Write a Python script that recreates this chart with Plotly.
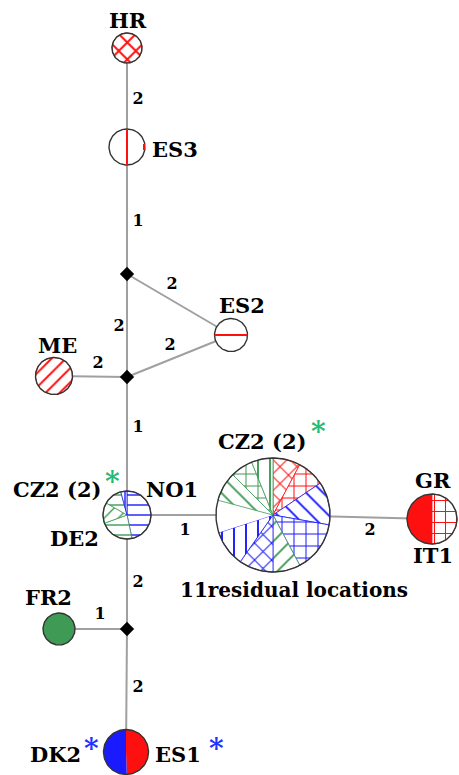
import numpy as np
import plotly.graph_objects as go

# ---------------- data ----------------
node_names = ["HR", "ES3", "J1", "ES2", "J2", "ME", "CZ2", "RES", "GR", "J3", "FR2", "DK2"]
node_x = [127, 127, 127, 231, 127, 54, 127, 273, 432, 127, 59, 126]
node_y = [48, 147, 274, 335, 377, 376, 515, 515, 519, 629, 629, 752]

edge_from = ["HR", "ES3", "J1", "J1", "J2", "ME", "J2", "CZ2", "RES", "CZ2", "FR2", "J3"]
edge_to = ["ES3", "J1", "ES2", "J2", "ES2", "J2", "CZ2", "RES", "GR", "J3", "J3", "DK2"]
edge_mutations = [2, 1, 2, 2, 2, 2, 1, 1, 2, 2, 1, 2]
edge_label_x = [138, 138, 172, 119, 170, 98, 138, 185, 370, 138, 100, 138]
edge_label_y = [100, 222, 285, 327, 346, 364, 428, 531, 531, 583, 615, 688]

RED, BLUE, GREEN = "#ff1010", "#1a1aff", "#3f9a55"
node_radius = {"HR": 15, "ES3": 18, "ES2": 16.5, "ME": 18.5, "CZ2": 24,
               "RES": 57, "GR": 25, "FR2": 16, "DK2": 22.5}
sectors = {
    "HR": [(0, 360, RED, "x")],
    "ES3": [(0, 360, "white", "")],
    "ES2": [(0, 360, "white", "")],
    "ME": [(0, 360, RED, "/")],
    "CZ2": [(0, 168, BLUE, "-"), (168, 250, GREEN, "-"), (250, 300, GREEN, "/"),
            (300, 345, GREEN, "-"), (345, 360, BLUE, "|")],
    "RES": [(0, 28, RED, "x"), (28, 56, RED, "+"), (56, 100, BLUE, "\\"),
            (100, 152, BLUE, "+"), (152, 180, GREEN, "/"), (180, 215, BLUE, "x"),
            (215, 252, BLUE, "|"), (252, 285, "white", ""), (285, 315, GREEN, "\\"),
            (315, 338, GREEN, "+"), (338, 360, GREEN, "|")],
    "GR": [(0, 180, RED, "+"), (180, 360, RED, "")],
    "FR2": [(0, 360, GREEN, "")],
    "DK2": [(0, 178, RED, ""), (178, 360, BLUE, "")],
}
pattern_size = {"HR": 12, "ME": 10, "CZ2": 10, "RES": 12, "GR": 11}
pattern_solidity = {"HR": 0.3, "ME": 0.2, "CZ2": 0.14, "RES": 0.16, "GR": 0.18}

labels = [
    ("HR", 128, 20), ("ES3", 175, 149), ("ES2", 242, 305), ("ME", 57, 345),
    ("CZ2 (2)", 57, 489), ("NO1", 172, 489), ("DE2", 74, 538), ("CZ2 (2)", 262, 441),
    ("GR", 433, 480), ("IT1", 433, 555), ("11residual locations", 294, 590),
    ("FR2", 48, 597), ("DK2", 55, 754), ("ES1", 178, 754),
]
asterisks = [(112, 481, "#22bb77"), (318, 431, "#22bb77"), (91, 748, "#2233ff"), (216, 748, "#2233ff")]

SERIF = "DejaVu Serif"

# ---------------- figure ----------------
pos = dict(zip(node_names, zip(node_x, node_y)))
fig = go.Figure()

for a, b in zip(edge_from, edge_to):
    (x0, y0), (x1, y1) = pos[a], pos[b]
    fig.add_trace(go.Scatter(x=[x0, x1], y=[y0, y1], mode="lines",
                             line=dict(color="#a0a0a0", width=2), hoverinfo="skip"))

jx = [pos[n][0] for n in ["J1", "J2", "J3"]]
jy = [pos[n][1] for n in ["J1", "J2", "J3"]]
fig.add_trace(go.Scatter(x=jx, y=jy, mode="markers",
                         marker=dict(symbol="diamond", size=11, color="black"), hoverinfo="skip"))


def wedge(cx, cy, r, a0, a1):
    t = np.radians(np.linspace(a0, a1, max(8, int(abs(a1 - a0) / 3))))
    xs = cx + r * np.sin(t)
    ys = cy - r * np.cos(t)
    if a1 - a0 < 360:
        xs = np.concatenate([[cx], xs, [cx]])
        ys = np.concatenate([[cy], ys, [cy]])
    return xs, ys


for name, secs in sectors.items():
    cx, cy = pos[name]
    r = node_radius[name]
    for a0, a1, col, pat in secs:
        xs, ys = wedge(cx, cy, r, a0, a1)
        if pat:
            fp = dict(shape=pat, fgcolor=col, bgcolor="white", fgopacity=1,
                      size=pattern_size[name], solidity=pattern_solidity[name])
            fig.add_trace(go.Scatter(x=xs, y=ys, mode="lines", fill="toself",
                                     fillcolor="white", fillpattern=fp,
                                     line=dict(width=0.8, color=col), hoverinfo="skip"))
        else:
            fig.add_trace(go.Scatter(x=xs, y=ys, mode="lines", fill="toself",
                                     fillcolor=col, line=dict(width=0, color=col),
                                     hoverinfo="skip"))
    t = np.radians(np.linspace(0, 360, 120))
    fig.add_trace(go.Scatter(x=cx + r * np.sin(t), y=cy - r * np.cos(t), mode="lines",
                             line=dict(color="#333333", width=1.4),
                             hoverinfo="skip"))

cx, cy = pos["ES3"]; r = node_radius["ES3"]
fig.add_trace(go.Scatter(x=[cx, cx], y=[cy - r, cy + r], mode="lines",
                         line=dict(color=RED, width=2), hoverinfo="skip"))
fig.add_trace(go.Scatter(x=[cx + r - 1, cx + r - 1], y=[cy - 3, cy + 3], mode="lines",
                         line=dict(color=RED, width=2), hoverinfo="skip"))
cx, cy = pos["ES2"]; r = node_radius["ES2"]
fig.add_trace(go.Scatter(x=[cx - r, cx + r], y=[cy, cy], mode="lines",
                         line=dict(color=RED, width=2), hoverinfo="skip"))

fig.add_trace(go.Scatter(x=edge_label_x, y=edge_label_y, mode="text",
                         text=[str(m) for m in edge_mutations],
                         textfont=dict(family=SERIF, size=16, color="black"),
                         texttemplate="<b>%{text}</b>", hoverinfo="skip"))

for txt, x, y in labels:
    fig.add_annotation(x=x, y=y, text=f"<b>{txt}</b>", showarrow=False, xanchor="center",
                       yanchor="middle", font=dict(family=SERIF, size=21 if len(txt) < 10 else 20, color="black"))
for x, y, c in asterisks:
    fig.add_annotation(x=x, y=y, text="<b>*</b>", showarrow=False, xanchor="center",
                       yanchor="middle", font=dict(family=SERIF, size=28, color=c))

fig.update_layout(width=459, height=775, margin=dict(l=0, r=0, t=0, b=0),
                  paper_bgcolor="white", plot_bgcolor="white", showlegend=False,
                  xaxis=dict(range=[0, 459], visible=False, fixedrange=True),
                  yaxis=dict(range=[775, 0], visible=False, fixedrange=True))
fig.write_html("out.html")
